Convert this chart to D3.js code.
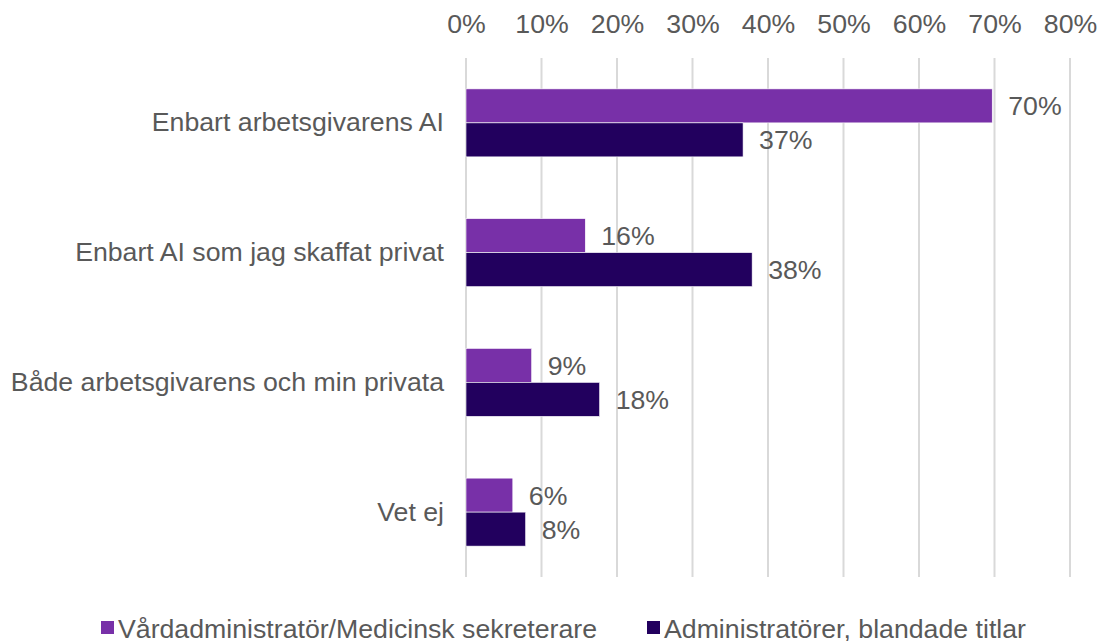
<!DOCTYPE html>
<html>
<head>
<meta charset="utf-8">
<script src="https://cdn.jsdelivr.net/npm/d3@7"></script>
<style>
  body { margin: 0; background: #fff; }
  text { font-family: "Liberation Sans", Arial, sans-serif; fill: #595959; }
</style>
</head>
<body>
<div id="chart"></div>
<script>
// data
const categories = ['Enbart arbetsgivarens AI', 'Enbart AI som jag skaffat privat', 'Både arbetsgivarens och min privata', 'Vet ej'];
const seriesNames = ['Vårdadministratör/Medicinsk sekreterare', 'Administratörer, blandade titlar'];
const vardadmin = [0.697, 0.158, 0.087, 0.062];
const administratorer = [0.367, 0.379, 0.177, 0.079];
const ticks = [0, 0.1, 0.2, 0.3, 0.4, 0.5, 0.6, 0.7, 0.8];
const colors = ['#7830A8', '#22005E'];

const width = 1100, height = 641;
const margin = {top: 58, right: 30, bottom: 64, left: 466};
const fontSize = '26.7px';

const svg = d3.select('#chart').append('svg')
    .attr('width', width)
    .attr('height', height);

const x = d3.scaleLinear()
    .domain([0, 0.8])
    .range([margin.left, 1070]);

const y = d3.scaleBand()
    .domain(categories)
    .range([margin.top, height - margin.bottom])
    .paddingInner(0.476)
    .paddingOuter(0.238);

const ySub = d3.scaleBand()
    .domain([0, 1])
    .range([0, y.bandwidth()]);

const fmt = d3.format('.0%');

// gridlines
svg.append('g')
    .selectAll('line')
    .data(ticks)
    .join('line')
    .attr('x1', d => x(d)).attr('x2', d => x(d))
    .attr('y1', margin.top).attr('y2', height - margin.bottom)
    .attr('stroke', '#D9D9D9')
    .attr('stroke-width', 2);

// top axis labels
const xAxis = svg.append('g')
    .attr('transform', `translate(0,${margin.top})`)
    .call(d3.axisTop(x).tickValues(ticks).tickFormat(fmt).tickSize(0).tickPadding(25));
xAxis.select('.domain').remove();
xAxis.selectAll('text')
    .style('font-size', fontSize)
    .style('font-family', '"Liberation Sans", Arial, sans-serif')
    .attr('fill', '#595959');

// category labels
const yAxis = svg.append('g')
    .attr('transform', `translate(${margin.left},0)`)
    .call(d3.axisLeft(y).tickSize(0).tickPadding(22));
yAxis.select('.domain').remove();
yAxis.selectAll('text')
    .style('font-size', fontSize)
    .style('font-family', '"Liberation Sans", Arial, sans-serif')
    .attr('fill', '#595959');

const series = [vardadmin, administratorer];

series.forEach((vals, si) => {
    const g = svg.append('g');
    g.selectAll('rect')
        .data(vals)
        .join('rect')
        .attr('x', x(0))
        .attr('y', (d, i) => y(categories[i]) + ySub(si))
        .attr('width', d => x(d) - x(0))
        .attr('height', ySub.bandwidth())
        .attr('fill', colors[si])
        .attr('stroke', '#ffffff')
        .attr('stroke-width', 0.6);

    g.selectAll('text')
        .data(vals)
        .join('text')
        .attr('x', d => x(d) + 16)
        .attr('y', (d, i) => y(categories[i]) + ySub(si) + ySub.bandwidth() / 2)
        .attr('dy', '0.36em')
        .style('font-size', fontSize)
        .text(d => fmt(Math.round(d * 100) / 100));
});

// legend
const legendX = [101, 647];
const legend = svg.append('g')
    .selectAll('g')
    .data(seriesNames)
    .join('g')
    .attr('transform', (d, i) => `translate(${legendX[i]},628)`);
legend.append('rect')
    .attr('x', 0).attr('y', -7)
    .attr('width', 13).attr('height', 13)
    .attr('fill', (d, i) => colors[i]);
legend.append('text')
    .attr('x', 17)
    .attr('dy', '0.36em')
    .style('font-size', fontSize)
    .text(d => d);
</script>
</body>
</html>
